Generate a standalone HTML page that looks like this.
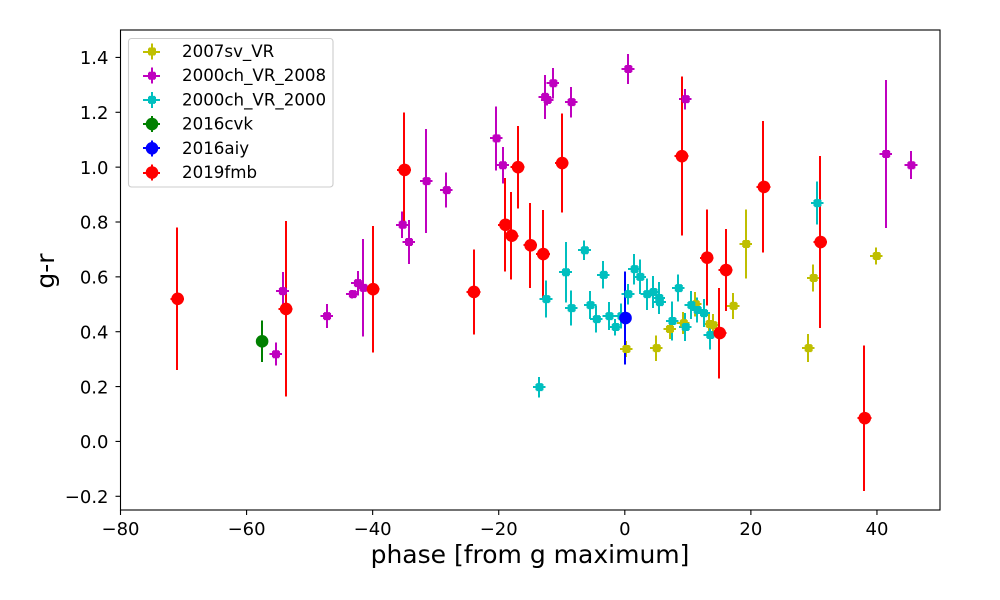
<!DOCTYPE html>
<html>
<head>
<meta charset="utf-8">
<title>g-r colour evolution</title>
<style>
html,body{margin:0;padding:0;background:#fff;}
svg{display:block;font-family:"DejaVu Sans","Liberation Sans",sans-serif;}
</style>
</head>
<body>
<svg id="chart" xmlns="http://www.w3.org/2000/svg" width="1000" height="600" viewBox="0 0 1000 600">
<rect width="1000" height="600" fill="#fff"/>
<g id="bars" shape-rendering="crispEdges"></g>
<g id="markers"></g>
<g id="axes"></g>
<g id="legend"></g>
</svg>
<script>
const xTicks = [-80, -60, -40, -20, 0, 20, 40];
const yTicks = [-0.2, 0, 0.2, 0.4, 0.6, 0.8, 1.0, 1.2, 1.4];

const sv2007Phase = [0.2, 5, 7.1, 9.3, 11.2, 13.4, 14, 17.2, 19.2, 29.9, 29.1, 39.9];
const sv2007Color = [0.337, 0.34, 0.41, 0.431, 0.5, 0.428, 0.424, 0.494, 0.72, 0.596, 0.34, 0.676];
const sv2007Err = [0.03, 0.047, 0.037, 0.04, 0.045, 0.04, 0.04, 0.047, 0.126, 0.049, 0.051, 0.031];

const ch2008Phase = [-55.4, -54.3, -47.3, -43.2, -42.4, -41.5, -35.3, -34.3, -31.5, -28.3, -20.4, -19.4, -12.7, -12.3, -11.4, -8.5, 0.5, 9.6, 41.4, 45.4];
const ch2008Color = [0.318, 0.548, 0.457, 0.537, 0.577, 0.56, 0.79, 0.727, 0.949, 0.916, 1.105, 1.007, 1.256, 1.245, 1.306, 1.237, 1.358, 1.248, 1.048, 1.007];
const ch2008Err = [0.042, 0.07, 0.044, 0.015, 0.045, 0.178, 0.049, 0.08, 0.19, 0.064, 0.117, 0.066, 0.08, 0.02, 0.055, 0.056, 0.055, 0.037, 0.27, 0.051];

const ch2000Phase = [-13.6, -12.5, -9.4, -8.5, -6.4, -5.5, -4.5, -3.4, -2.5, -1.5, -0.6, 0.5, 1.5, 2.4, 3.5, 4.5, 5.4, 5.5, 8.5, 7.5, 9.6, 10.5, 11.5, 12.5, 13.5, 30.5];
const ch2000Color = [0.198, 0.519, 0.617, 0.486, 0.697, 0.497, 0.446, 0.607, 0.457, 0.417, 0.457, 0.537, 0.628, 0.6, 0.537, 0.545, 0.523, 0.508, 0.559, 0.439, 0.417, 0.497, 0.479, 0.468, 0.388, 0.869];
const ch2000Err = [0.037, 0.067, 0.11, 0.064, 0.036, 0.051, 0.049, 0.05, 0.051, 0.03, 0.045, 0.037, 0.055, 0.063, 0.057, 0.058, 0.058, 0.03, 0.049, 0.071, 0.051, 0.051, 0.045, 0.051, 0.053, 0.078];

const cvkPhase = [-57.6];
const cvkColor = [0.365];
const cvkErr = [0.075];

const aiyPhase = [0.05];
const aiyColor = [0.45];
const aiyErr = [0.17];

const fmbPhase = [-71, -53.8, -40, -35, -24, -19, -18, -17, -15, -13, -10, 9, 13, 15, 16, 22, 31, 38];
const fmbColor = [0.52, 0.483, 0.555, 0.99, 0.545, 0.79, 0.75, 1.0, 0.715, 0.683, 1.015, 1.04, 0.67, 0.395, 0.625, 0.928, 0.727, 0.085];
const fmbErr = [0.26, 0.32, 0.23, 0.21, 0.155, 0.17, 0.16, 0.15, 0.155, 0.16, 0.18, 0.29, 0.175, 0.165, 0.15, 0.24, 0.313, 0.265];

const seriesList = [
  {name: '2007sv_VR', slug: '2007sv', color: '#bfbf00', kind: 'plus', px: sv2007Phase, py: sv2007Color, pe: sv2007Err, xe: 1},
  {name: '2000ch_VR_2008', slug: '2000ch-2008', color: '#bf00bf', kind: 'plus', px: ch2008Phase, py: ch2008Color, pe: ch2008Err, xe: 1},
  {name: '2000ch_VR_2000', slug: '2000ch-2000', color: '#00bfbf', kind: 'plus', px: ch2000Phase, py: ch2000Color, pe: ch2000Err, xe: 1},
  {name: '2016cvk', slug: '2016cvk', color: '#008000', kind: 'dot', px: cvkPhase, py: cvkColor, pe: cvkErr, xe: 0.5},
  {name: '2016aiy', slug: '2016aiy', color: '#0000ff', kind: 'dot', px: aiyPhase, py: aiyColor, pe: aiyErr, xe: 0.5},
  {name: '2019fmb', slug: '2019fmb', color: '#ff0000', kind: 'dot', px: fmbPhase, py: fmbColor, pe: fmbErr, xe: 1.1}
];

const plotLeft = 120.5, plotRight = 940, plotTop = 30, plotBottom = 510;
const xMin = -80, xMax = 50, yMin = -0.25, yMax = 1.5;
function xScale(v) { return plotLeft + (v - xMin) / (xMax - xMin) * (plotRight - plotLeft); }
function yScale(v) { return plotBottom - (v - yMin) / (yMax - yMin) * (plotBottom - plotTop); }

const NS = 'http://www.w3.org/2000/svg';
function make(tag, parent, attrs, text) {
  const el = document.createElementNS(NS, tag);
  for (const k in attrs) el.setAttribute(k, attrs[k]);
  if (text !== undefined) el.textContent = text;
  parent.appendChild(el);
  return el;
}
function plusPoints(cx, cy) {
  const a = 4, b = 3.1;
  return [[cx-b,cy-a],[cx+b,cy-a],[cx+b,cy-b],[cx+a,cy-b],[cx+a,cy+b],[cx+b,cy+b],[cx+b,cy+a],[cx-b,cy+a],[cx-b,cy+b],[cx-a,cy+b],[cx-a,cy-b],[cx-b,cy-b]].map(p => p.join(',')).join(' ');
}
function drawMarker(parent, s, cx, cy) {
  if (s.kind === 'plus') {
    return make('polygon', parent, {points: plusPoints(cx, cy), fill: s.color});
  }
  return make('circle', parent, {cx: cx, cy: cy, r: 6.3, fill: s.color});
}
function minusFmt(v, digits) {
  const t = Math.abs(v).toFixed(digits);
  return (v < 0 ? '\u2212' : '') + t;
}

const barsG = document.getElementById('bars');
const markersG = document.getElementById('markers');
const axesG = document.getElementById('axes');
const legendG = document.getElementById('legend');

seriesList.forEach(function (s) {
  s.px.forEach(function (p, i) {
    const g = make('g', barsG, {});
    
    
    const vx = Math.round(xScale(p));
    const hy = Math.round(yScale(s.py[i]));
    make('line', g, {x1: vx, x2: vx, y1: yScale(s.py[i] - s.pe[i]), y2: yScale(s.py[i] + s.pe[i]), stroke: s.color, 'stroke-width': 2});
    make('line', g, {x1: xScale(p - s.xe), x2: xScale(p + s.xe), y1: hy, y2: hy, stroke: s.color, 'stroke-width': 2});
  });
});
seriesList.forEach(function (s) {
  s.px.forEach(function (p, i) {
    const m = drawMarker(markersG, s, xScale(p) + 0.4, yScale(s.py[i]));
    
    
  });
});

const frame = make('rect', axesG, {x: plotLeft, y: plotTop, width: plotRight - plotLeft, height: plotBottom - plotTop, fill: 'none', stroke: '#000', 'stroke-width': 1.1});



xTicks.forEach(function (t) {
  const x = xScale(t);
  const tick = make('line', axesG, {x1: x, x2: x, y1: plotBottom, y2: plotBottom + 5, stroke: '#000', 'stroke-width': 1.1});
  
  
  const lab = make('text', axesG, {x: x, y: 535, 'text-anchor': 'middle', 'font-size': 18, fill: '#000'}, minusFmt(t, 0));
  
  
});
yTicks.forEach(function (t) {
  const y = yScale(t);
  const tick = make('line', axesG, {x1: plotLeft - 5, x2: plotLeft, y1: y, y2: y, stroke: '#000', 'stroke-width': 1.1});
  
  
  const lab = make('text', axesG, {x: 108.5, y: y + 6.7, 'text-anchor': 'end', 'font-size': 18, fill: '#000'}, minusFmt(t, 1));
  
  
});

const xTitle = make('text', axesG, {x: 530, y: 563, 'text-anchor': 'middle', 'font-size': 25, fill: '#000'}, 'phase [from g maximum]');


const yTitle = make('text', axesG, {x: 0, y: 0, transform: 'translate(54,271) rotate(-90)', 'text-anchor': 'middle', 'font-size': 25, fill: '#000'}, 'g-r');



const legendBox = make('rect', legendG, {x: 128.5, y: 38.5, width: 204.5, height: 148.5, rx: 3, ry: 3, fill: '#fff', 'fill-opacity': 0.8, stroke: '#ccc', 'stroke-width': 1.1});



seriesList.forEach(function (s, i) {
  const rowY = 51.5 + i * 24.2;
  const g = make('g', legendG, {});
  
  
  const rowSnap = Math.round(rowY);
  make('line', g, {x1: 152, x2: 152, y1: rowY - 8, y2: rowY + 8, stroke: s.color, 'stroke-width': 2, 'shape-rendering': 'crispEdges'});
  make('line', g, {x1: 143, x2: 160, y1: rowSnap, y2: rowSnap, stroke: s.color, 'stroke-width': 2, 'shape-rendering': 'crispEdges'});
  drawMarker(g, s, 152, rowY);
  make('text', g, {x: 182, y: rowY + 5.5, 'font-size': 16.67, fill: '#000'}, s.name);
});
</script>
</body>
</html>
